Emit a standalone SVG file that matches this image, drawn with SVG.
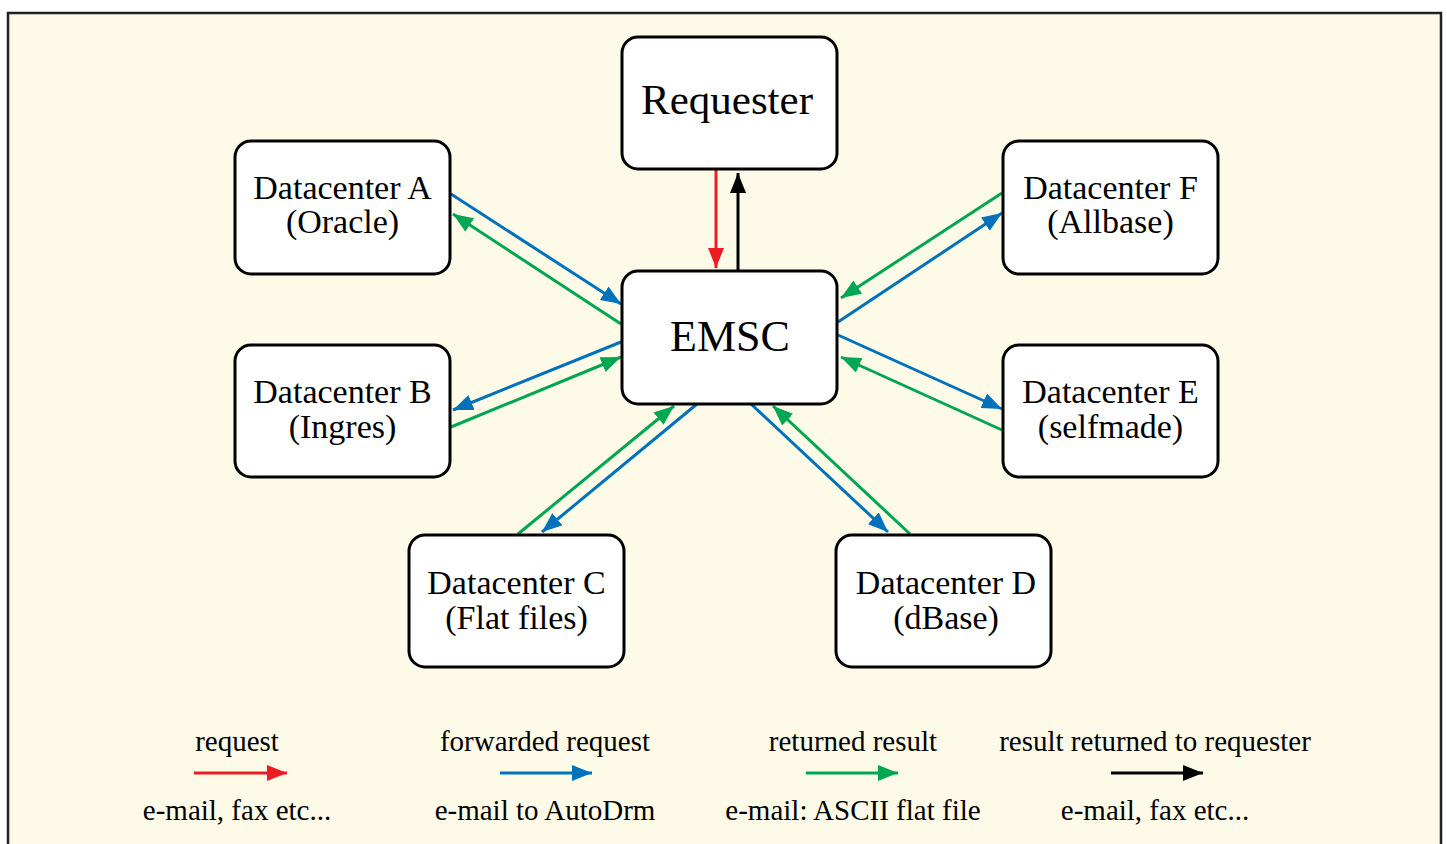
<svg xmlns="http://www.w3.org/2000/svg" width="1447" height="844" viewBox="0 0 1447 844">
<defs>
<marker id="mr" viewBox="0 0 20 16" refX="20" refY="8" markerWidth="20" markerHeight="16" markerUnits="userSpaceOnUse" orient="auto"><path d="M0,0 L20,8 L0,16 Z" fill="#ED1C24"/></marker>
<marker id="mb" viewBox="0 0 20 16" refX="20" refY="8" markerWidth="20" markerHeight="16" markerUnits="userSpaceOnUse" orient="auto"><path d="M0,0 L20,8 L0,16 Z" fill="#0072BC"/></marker>
<marker id="mg" viewBox="0 0 20 16" refX="20" refY="8" markerWidth="20" markerHeight="16" markerUnits="userSpaceOnUse" orient="auto"><path d="M0,0 L20,8 L0,16 Z" fill="#00A651"/></marker>
<marker id="mk" viewBox="0 0 20 16" refX="20" refY="8" markerWidth="20" markerHeight="16" markerUnits="userSpaceOnUse" orient="auto"><path d="M0,0 L20,8 L0,16 Z" fill="#000"/></marker>
</defs>
<style>
.box{fill:#fff;stroke:#000;stroke-width:3}
.t{font-family:"Liberation Serif",serif;fill:#000;text-anchor:middle}
.dc{font-size:34px}
.lg{font-size:29px}
.r{stroke:#ED1C24;stroke-width:3;fill:none;marker-end:url(#mr)}
.b{stroke:#0072BC;stroke-width:3;fill:none;marker-end:url(#mb)}
.g{stroke:#00A651;stroke-width:3;fill:none;marker-end:url(#mg)}
.k{stroke:#000;stroke-width:3;fill:none;marker-end:url(#mk)}
</style>
<rect x="8" y="13" width="1433" height="840" fill="#FEFAE8" stroke="#222" stroke-width="2.5"/>
<g id="connectors">
<line class="r" x1="716" y1="170" x2="716" y2="268"/>
<line class="k" x1="738" y1="270" x2="738" y2="173"/>
<line class="b" x1="451" y1="194" x2="621" y2="304"/>
<line class="g" x1="621" y1="324" x2="453" y2="214"/>
<line class="b" x1="621" y1="342" x2="453" y2="410"/>
<line class="g" x1="451" y1="427" x2="621" y2="357"/>
<line class="g" x1="518" y1="534" x2="674" y2="406"/>
<line class="b" x1="697" y1="404" x2="542" y2="532"/>
<line class="b" x1="751" y1="404" x2="888" y2="532"/>
<line class="g" x1="910" y1="534" x2="773" y2="406"/>
<line class="g" x1="1002" y1="193" x2="841" y2="298"/>
<line class="b" x1="838" y1="322" x2="1002" y2="213"/>
<line class="b" x1="838" y1="335" x2="1002" y2="409"/>
<line class="g" x1="1002" y1="430" x2="841" y2="357"/>
</g>
<g id="requester"><rect class="box" x="622" y="37" width="215" height="132" rx="16"/><text class="t" x="727" y="114" font-size="43">Requester</text></g>
<g id="emsc"><rect class="box" x="622" y="271" width="215" height="133" rx="16"/><text class="t" x="730" y="351" font-size="44">EMSC</text></g>
<g id="dc-a"><rect class="box" x="235" y="141" width="215" height="133" rx="16"/><text class="t dc" x="342.5" y="199">Datacenter A</text><text class="t dc" x="342.5" y="233">(Oracle)</text></g>
<g id="dc-b"><rect class="box" x="235" y="345" width="215" height="132" rx="16"/><text class="t dc" x="342.5" y="403">Datacenter B</text><text class="t dc" x="342.5" y="438">(Ingres)</text></g>
<g id="dc-c"><rect class="box" x="409" y="535" width="215" height="132" rx="16"/><text class="t dc" x="516.5" y="594">Datacenter C</text><text class="t dc" x="516.5" y="629">(Flat files)</text></g>
<g id="dc-d"><rect class="box" x="836" y="535" width="215" height="132" rx="16"/><text class="t dc" x="946" y="594">Datacenter D</text><text class="t dc" x="946" y="629">(dBase)</text></g>
<g id="dc-e"><rect class="box" x="1003" y="345" width="215" height="132" rx="16"/><text class="t dc" x="1110.5" y="403">Datacenter E</text><text class="t dc" x="1110.5" y="438">(selfmade)</text></g>
<g id="dc-f"><rect class="box" x="1003" y="141" width="215" height="133" rx="16"/><text class="t dc" x="1110.5" y="199">Datacenter F</text><text class="t dc" x="1110.5" y="233">(Allbase)</text></g>
<g id="legend">
<text class="t lg" x="237" y="751">request</text>
<line class="r" x1="194" y1="773" x2="287" y2="773"/>
<text class="t lg" x="237" y="820">e-mail, fax etc...</text>
<text class="t lg" x="545" y="751">forwarded request</text>
<line class="b" x1="500" y1="773" x2="592" y2="773"/>
<text class="t lg" x="545" y="820">e-mail to AutoDrm</text>
<text class="t lg" x="853" y="751">returned result</text>
<line class="g" x1="806" y1="773" x2="898" y2="773"/>
<text class="t lg" x="853" y="820">e-mail: ASCII flat file</text>
<text class="t lg" x="1155" y="751">result returned to requester</text>
<line class="k" x1="1111" y1="773" x2="1203" y2="773"/>
<text class="t lg" x="1155" y="820">e-mail, fax etc...</text>
</g>
</svg>
